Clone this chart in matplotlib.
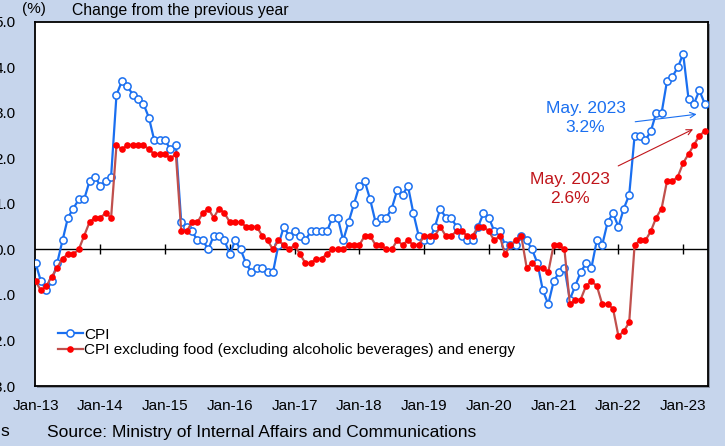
import matplotlib.pyplot as plt
from matplotlib.patches import Rectangle

# === Data: year-on-year change (%), Jan 2013 - May 2023 ===
cpi = [
    -0.3, -0.7, -0.9, -0.7, -0.3, 0.2, 0.7, 0.9, 1.1, 1.1, 1.5, 1.6,      # 2013
    1.4, 1.5, 1.6, 3.4, 3.7, 3.6, 3.4, 3.3, 3.2, 2.9, 2.4, 2.4,           # 2014
    2.4, 2.2, 2.3, 0.6, 0.5, 0.4, 0.2, 0.2, 0.0, 0.3, 0.3, 0.2,           # 2015
    -0.1, 0.2, 0.0, -0.3, -0.5, -0.4, -0.4, -0.5, -0.5, 0.1, 0.5, 0.3,    # 2016
    0.4, 0.3, 0.2, 0.4, 0.4, 0.4, 0.4, 0.7, 0.7, 0.2, 0.6, 1.0,           # 2017
    1.4, 1.5, 1.1, 0.6, 0.7, 0.7, 0.9, 1.3, 1.2, 1.4, 0.8, 0.3,           # 2018
    0.2, 0.2, 0.5, 0.9, 0.7, 0.7, 0.5, 0.3, 0.2, 0.2, 0.5, 0.8,           # 2019
    0.7, 0.4, 0.4, 0.1, 0.1, 0.1, 0.3, 0.2, 0.0, -0.3, -0.9, -1.2,        # 2020
    -0.7, -0.5, -0.4, -1.1, -0.8, -0.5, -0.3, -0.4, 0.2, 0.1, 0.6, 0.8,   # 2021
    0.5, 0.9, 1.2, 2.5, 2.5, 2.4, 2.6, 3.0, 3.0, 3.7, 3.8, 4.0,           # 2022
    4.3, 3.3, 3.2, 3.5, 3.2,                                              # 2023
]
core_core = [
    -0.7, -0.9, -0.8, -0.6, -0.4, -0.2, -0.1, -0.1, 0.0, 0.3, 0.6, 0.7,   # 2013
    0.7, 0.8, 0.7, 2.3, 2.2, 2.3, 2.3, 2.3, 2.3, 2.2, 2.1, 2.1,           # 2014
    2.1, 2.0, 2.1, 0.4, 0.4, 0.6, 0.6, 0.8, 0.9, 0.7, 0.9, 0.8,           # 2015
    0.6, 0.6, 0.6, 0.5, 0.5, 0.5, 0.3, 0.2, 0.0, 0.2, 0.1, 0.0,           # 2016
    0.1, -0.1, -0.3, -0.3, -0.2, -0.2, -0.1, 0.0, 0.0, 0.0, 0.1, 0.1,     # 2017
    0.1, 0.3, 0.3, 0.1, 0.1, 0.0, 0.0, 0.2, 0.1, 0.2, 0.1, 0.1,           # 2018
    0.3, 0.3, 0.3, 0.5, 0.3, 0.3, 0.4, 0.4, 0.3, 0.3, 0.5, 0.5,           # 2019
    0.4, 0.2, 0.3, -0.1, 0.1, 0.2, 0.3, -0.4, -0.3, -0.4, -0.4, -0.5,     # 2020
    0.1, 0.1, 0.0, -1.2, -1.1, -1.1, -0.8, -0.7, -0.8, -1.2, -1.2, -1.3,  # 2021
    -1.9, -1.8, -1.6, 0.1, 0.2, 0.2, 0.4, 0.7, 0.9, 1.5, 1.5, 1.6,        # 2022
    1.9, 2.1, 2.3, 2.5, 2.6,                                              # 2023
]
year_labels = ["Jan-13", "Jan-14", "Jan-15", "Jan-16", "Jan-17", "Jan-18",
               "Jan-19", "Jan-20", "Jan-21", "Jan-22", "Jan-23"]
y_ticks = [-3, -2, -1, 0, 1, 2, 3, 4, 5]

months = list(range(len(cpi)))
year_ticks = list(range(0, len(cpi), 12))

# === Style ===
plt.rcParams['font.family'] = ['Liberation Sans', 'DejaVu Sans']
BG = '#c6d5ec'
BLUE = '#1a6ff0'
RED_LINE = '#c0504d'
RED_DOT = '#ff0000'
RED_TEXT = '#c0151b'

W, H = 725, 446
fig = plt.figure(figsize=(W / 100, H / 100), dpi=100)
fig.patch.set_facecolor(BG)

# plot box in pixels: left 35, right 708, top 22, bottom 386
left, right, top, bottom = 35, 708, 22, 386
ax = fig.add_axes([left / W, (H - bottom) / H, (right - left) / W, (bottom - top) / H])

# drop shadow behind the plot box
shadow = Rectangle(((left + 2) / W, (H - bottom - 2) / H), (right - left) / W, (bottom - top) / H,
                   transform=fig.transFigure, facecolor='#8d96a6', edgecolor='none', zorder=-1)
fig.patches.append(shadow)

ax.set_facecolor('white')
ax.set_xlim(-0.1, 124.6)
ax.set_ylim(-3, 5)

ax.axhline(0, color='black', lw=1.0, zorder=1)
ax.plot(year_ticks[1:], [0] * (len(year_ticks) - 1), '|', color='black', ms=7, mew=1.0, zorder=1)

ax.plot(months, cpi, color=BLUE, lw=1.6, marker='o', ms=5.2, mfc='white', mec=BLUE, mew=1.1,
        label='CPI', zorder=3)
ax.plot(months, core_core, color=RED_LINE, lw=1.6, marker='o', ms=4.8, mfc=RED_DOT, mec=RED_DOT,
        mew=0, label='CPI excluding food (excluding alcoholic beverages) and energy', zorder=4)

ax.set_xticks(year_ticks)
ax.set_xticklabels(year_labels)
ax.set_yticks(y_ticks)
ax.set_yticklabels([f"{v:.1f}" for v in y_ticks])
ax.tick_params(axis='x', length=0, pad=9, labelsize=11)
ax.tick_params(axis='y', length=0, pad=14, labelsize=11)
for s in ax.spines.values():
    s.set_color('black')
    s.set_linewidth(1.3)

leg = ax.legend(loc='lower left', bbox_to_anchor=(0.025, 0.062), frameon=False, fontsize=11.1,
                handlelength=1.6, handletextpad=0.1, labelspacing=0.1, borderaxespad=0)

# latest-month callouts
last = months[-1]
ax.annotate('', xy=(last - 1.0, 2.98), xytext=(110.6, 2.80),
            arrowprops=dict(arrowstyle='->', color=BLUE, lw=0.8))
ax.text(101.9, 2.89, f"May. 2023\n{cpi[-1]:.1f}%", color=BLUE, fontsize=12.5,
        ha='center', va='center', linespacing=1.35)
ax.annotate('', xy=(last - 1.7, 2.67), xytext=(107.5, 1.81),
            arrowprops=dict(arrowstyle='->', color=RED_TEXT, lw=0.8))
ax.text(99.1, 1.33, f"May. 2023\n{core_core[-1]:.1f}%", color=RED_TEXT, fontsize=12.5,
        ha='center', va='center', linespacing=1.35)

# header and footer text
fig.text(22 / W, 1 - 9 / H, "(%)", fontsize=11, va='center', ha='left')
fig.text(72 / W, 1 - 10 / H, "Change from the previous year", fontsize=11.3, va='center', ha='left')
fig.text(47 / W, 1 - 432 / H, "Source: Ministry of Internal Affairs and Communications",
         fontsize=12.5, va='center', ha='left')
fig.text(9 / W, 1 - 432 / H, "s", fontsize=12.5, va='center', ha='right')

fig.savefig('out.png', dpi=100, facecolor=BG)
